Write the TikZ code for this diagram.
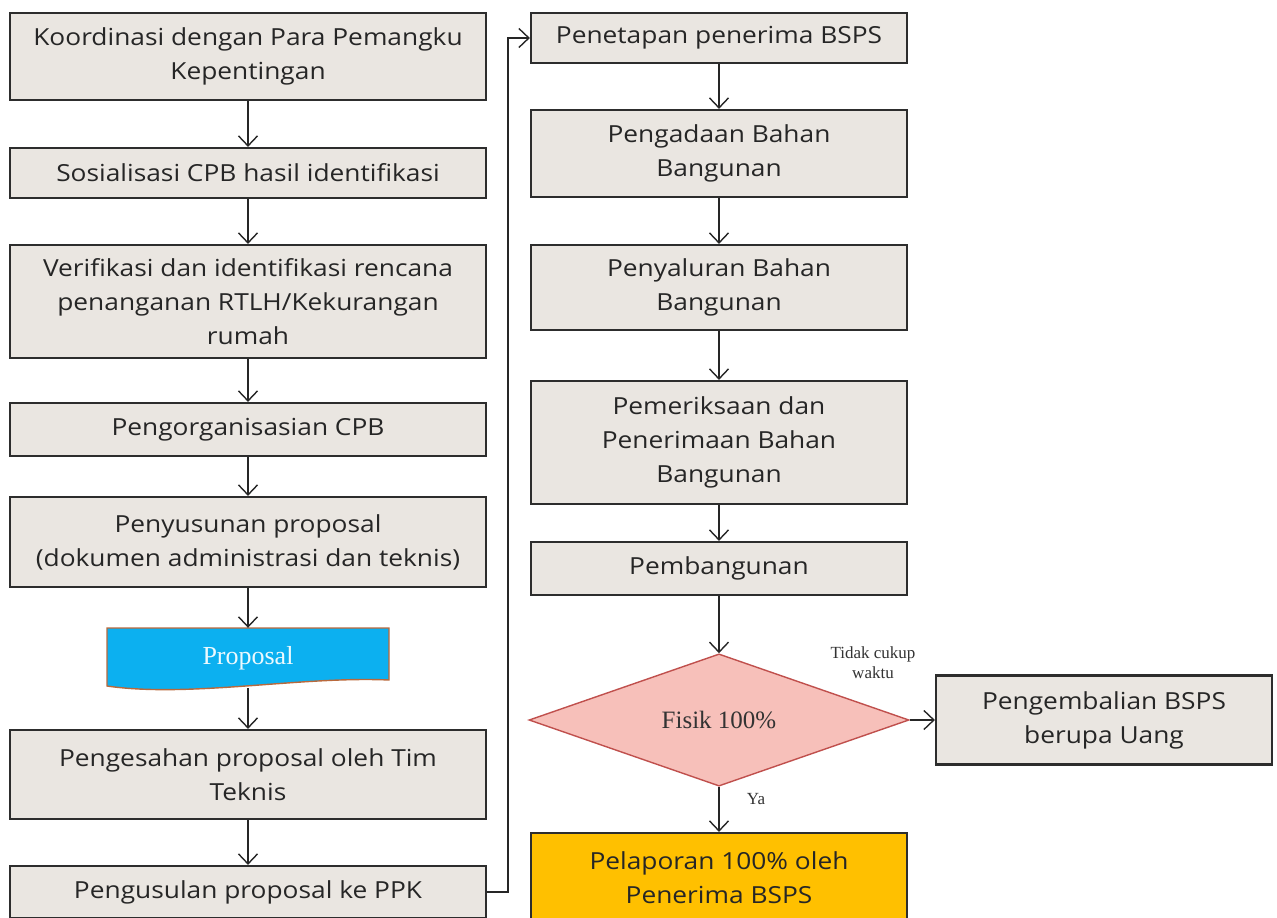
\documentclass[tikz,border=0pt]{standalone}
\usepackage{fontspec}
\setsansfont{Open Sans}[FakeStretch=1.12]
\newfontfamily\labelfont{Liberation Serif}
\usepackage{xcolor}
\usetikzlibrary{arrows.meta, calc, positioning, shapes.geometric}
\definecolor{boxgrey}{RGB}{234,230,225}
\definecolor{linegrey}{RGB}{45,45,45}
\definecolor{docblue}{RGB}{12,176,240}
\definecolor{docedge}{RGB}{185,105,60}
\definecolor{decpink}{RGB}{247,192,186}
\definecolor{decred}{RGB}{192,80,77}
\definecolor{repgold}{RGB}{255,192,0}
\tikzset{stepbox/.style={draw=linegrey, line width=2.2pt, fill=boxgrey, rectangle, align=center, inner sep=0pt, text=black!85, font=\sffamily\fontsize{23.5}{34}\selectfont}}
\tikzset{leftbox/.style={stepbox, minimum width=476pt}}
\tikzset{rightbox/.style={stepbox, minimum width=376pt}}
\tikzset{flow/.style={draw=black!85, line width=1.4pt, -{Straight Barb[length=10pt, width=19pt, line width=1.4pt]}}}
\tikzset{edgelabel/.style={font=\labelfont\fontsize{17}{20}\selectfont, text=black!80, align=center}}

\begin{document}
\begin{tikzpicture}[x=1pt, y=-1pt]
            \useasboundingbox (0, 0) rectangle (1277, 918);
            \fill [white] (0, 0) rectangle (1277, 918);

            % left column
            \node [leftbox, minimum height=87pt] (koord) at (248, 56.5) {Koordinasi dengan Para Pemangku\\Kepentingan};
            \node [leftbox, minimum height=50pt] (sosial) at (248, 173) {Sosialisasi CPB hasil identifikasi};
            \node [leftbox, minimum height=113pt] (verif) at (248, 301.5) {Verifikasi dan identifikasi rencana\\penanganan RTLH/Kekurangan\\rumah};
            \node [leftbox, minimum height=53pt] (organ) at (248, 429.5) {Pengorganisasian CPB};
            \node [leftbox, minimum height=90pt] (susun) at (248, 542) {Penyusunan proposal\\(dokumen administrasi dan teknis)};

            \draw [fill=docblue, draw=docedge, line width=1.4pt] (107, 628) -- (389, 628) -- (389, 680)
                .. controls (300, 676) and (190, 698) .. (107, 686) -- cycle;
            \node [minimum width=282pt, minimum height=60pt, inner sep=0pt, text=white!92!docblue,
                   font=\labelfont\fontsize{26}{28}\selectfont] (prop) at (248, 658) {\raisebox{4pt}{Proposal}};

            \node [leftbox, minimum height=89pt] (sahkan) at (248, 774.5) {Pengesahan proposal oleh Tim\\Teknis};
            \node [leftbox, minimum height=52pt] (usul) at (248, 892) {Pengusulan proposal ke PPK};

            % right column
            \node [rightbox, minimum height=50pt] (tetap) at (719, 38) {Penetapan penerima BSPS};
            \node [rightbox, minimum height=87pt] (adaan) at (719, 153.5) {Pengadaan Bahan\\Bangunan};
            \node [rightbox, minimum height=85pt] (salur) at (719, 287.5) {Penyaluran Bahan\\Bangunan};
            \node [rightbox, minimum height=123pt] (periksa) at (719, 442.5) {Pemeriksaan dan\\Penerimaan Bahan\\Bangunan};
            \node [rightbox, minimum height=53pt] (bangun) at (719, 568.5) {Pembangunan};
            \node [diamond, draw=decred, line width=1.4pt, fill=decpink, minimum width=380pt, minimum height=132pt,
                   inner sep=0pt, text=black!80, font=\labelfont\fontsize{25}{28}\selectfont] (fisik) at (719, 720) {Fisik 100\%};
            \node [rightbox, fill=repgold, minimum height=90pt] (lapor) at (719, 878) {Pelaporan 100\% oleh\\Penerima BSPS};
            \node [stepbox, minimum width=336pt, minimum height=89pt] (kembali) at (1104, 720) {Pengembalian BSPS\\berupa Uang};

            \coordinate (turn) at (508, 892);

            \draw [flow] (koord) -- (sosial);
            \draw [flow] (sosial) -- (verif);
            \draw [flow] (verif) -- (organ);
            \draw [flow] (organ) -- (susun);
            \draw [flow] (susun) -- (prop);
            \draw [flow] (prop) -- (sahkan);
            \draw [flow] (sahkan) -- (usul);
            \draw [flow] (usul.east) -- (turn) |- (tetap.west);

            \draw [flow] (tetap) -- (adaan);
            \draw [flow] (adaan) -- (salur);
            \draw [flow] (salur) -- (periksa);
            \draw [flow] (periksa) -- (bangun);
            \draw [flow] (bangun) -- (fisik);
            \draw [flow] (fisik) -- (lapor);
            \draw [flow] (fisik.east) -- (kembali.west);

            \node [edgelabel] (tidak) at (873, 663) {Tidak cukup\\waktu};
            \node [edgelabel] (ya) at (756, 799) {Ya};
        \end{tikzpicture}
\end{document}
